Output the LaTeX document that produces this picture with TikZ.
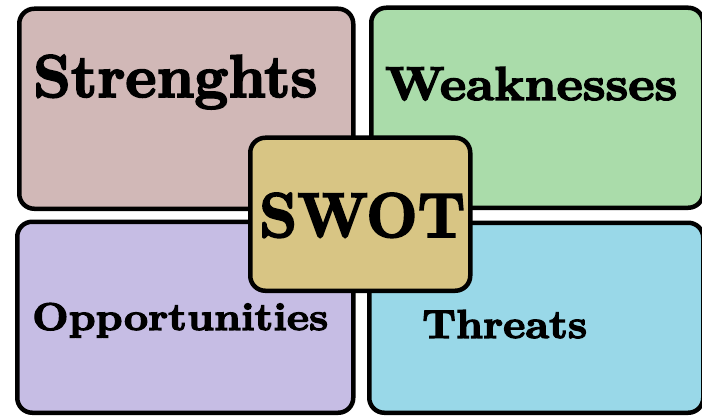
\documentclass[tikz,border=0pt]{standalone}
\usepackage{fontspec}
\newfontfamily\swotfont{lmroman10-bold.otf}[FakeBold=3]
\usetikzlibrary{positioning}
\definecolor{strcol}{HTML}{D1B8B7}
\definecolor{weakcol}{HTML}{AADCAA}
\definecolor{oppcol}{HTML}{C6BDE4}
\definecolor{thrcol}{HTML}{99D8E8}
\definecolor{swotcol}{HTML}{D8C584}

\begin{document}
\begin{tikzpicture}[x=1bp,y=1bp,
panel/.style={rectangle, rounded corners=15bp, draw=black,
line width=4.5bp, inner sep=0pt, anchor=south west},
word/.style={inner sep=0pt, anchor=base west, font=\swotfont}
]
\useasboundingbox (0,0) rectangle (702,418);
% the four quarters
\node[panel, fill=strcol, minimum width=334bp, minimum height=200bp] (S) at (17,207) {};
\node[panel, fill=weakcol, minimum width=332bp, minimum height=200bp] (W) at (369,208) {};
\node[panel, fill=oppcol, minimum width=336bp, minimum height=191bp] (O) at (15,3) {};
\node[panel, fill=thrcol, minimum width=334bp, minimum height=190bp] (T) at (367,3) {};
% the middle one on top
\node[panel, fill=swotcol, minimum width=220bp, minimum height=153bp] (C) at (248,125) {};
% texts
\node[word] (St) at (33,321) {\resizebox{284bp}{42bp}{Strenghts}};
\node[word] (We) at (385,318) {\resizebox{292bp}{33bp}{Weaknesses}};
\node[word] (Op) at (32,88) {\resizebox{296bp}{27bp}{Opportunities}};
\node[word] (Th) at (422,80) {\resizebox{165bp}{28bp}{Threats}};
\node[word] (Sw) at (259,181) {\resizebox{206bp}{44bp}{SWOT}};
\end{tikzpicture}
\end{document}
